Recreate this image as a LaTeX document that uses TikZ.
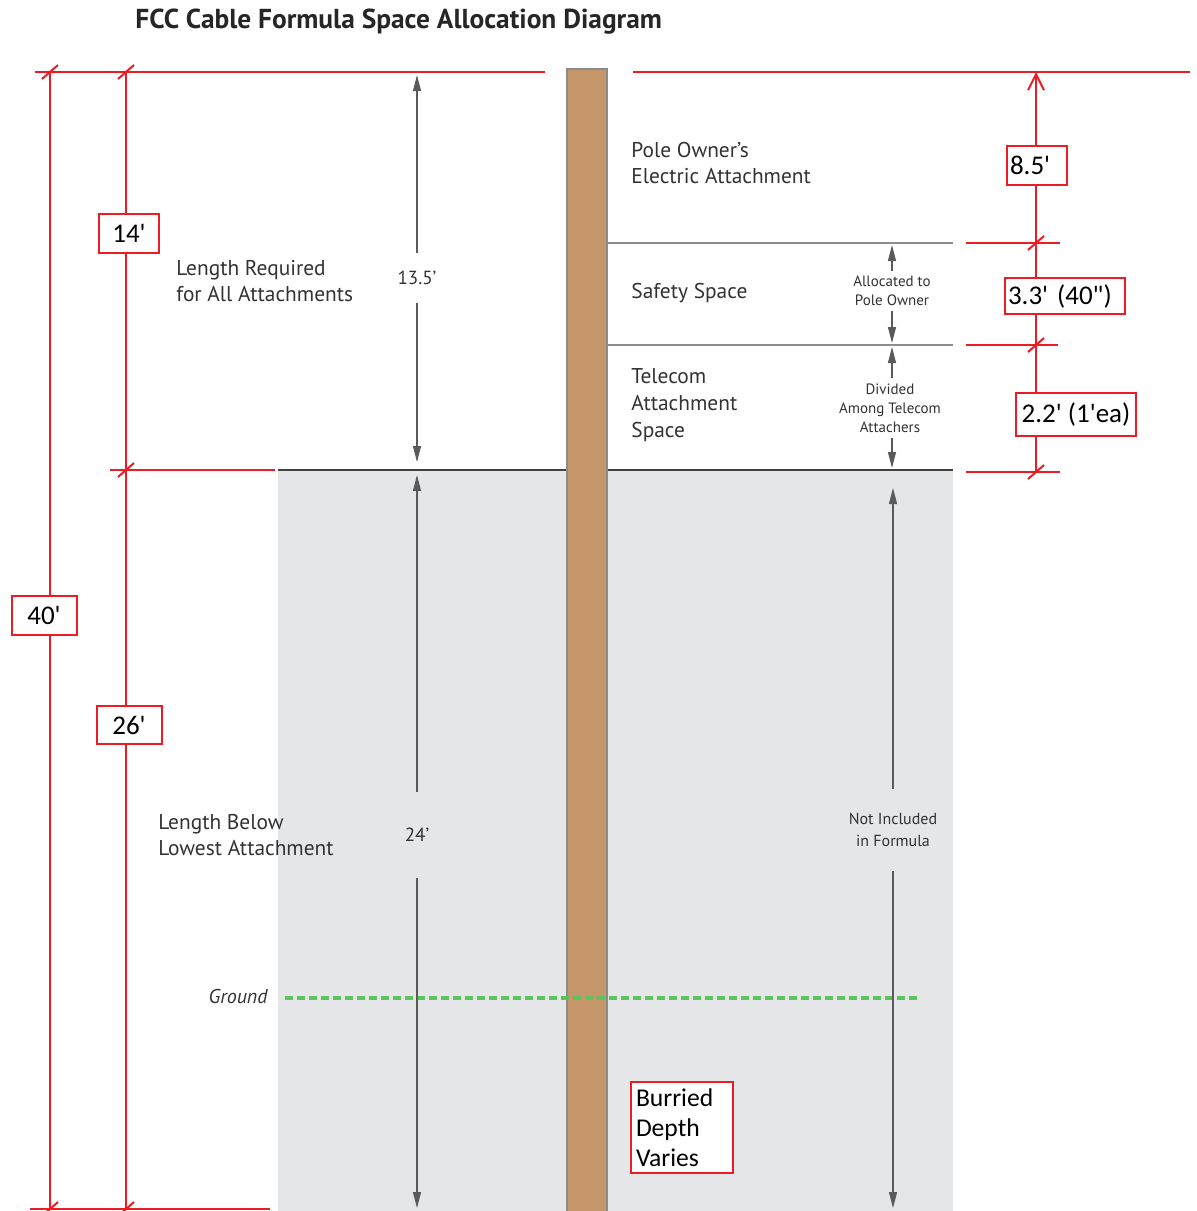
\documentclass[tikz,border=0pt]{standalone}
\usepackage{fontspec}
\setmainfont{PT Sans}
\newfontfamily\boxfont{Carlito}
\usetikzlibrary{calc,arrows.meta}
\definecolor{dimred}{RGB}{237,28,36}
\definecolor{poletan}{RGB}{196,150,106}
\definecolor{belowgray}{RGB}{229,230,232}
\definecolor{groundgreen}{RGB}{92,196,92}
\definecolor{labelgray}{RGB}{50,50,50}
\definecolor{arrowgray}{RGB}{90,90,90}
\def\dimtick(#1){\draw[dimline] ($(#1)+(-8,7)$) -- ($(#1)+(8,-7)$);}

\begin{document}
\begin{tikzpicture}[x=0.5pt, y=-0.5pt,
	dimline/.style={draw=dimred, line width=1pt},
	dimbox/.style={draw=dimred, line width=1pt, fill=white, text=black, font=\boxfont\fontsize{13.5}{15}\selectfont, inner sep=0pt},
	measure/.style={draw=arrowgray, line width=0.6pt, -{Triangle[length=8pt,width=4pt]}},
	partline/.style={draw=black!45, line width=0.7pt},
	sidetext/.style={text=labelgray, font=\fontsize{10.7}{13}\selectfont, align=left, anchor=west, inner sep=0pt},
	numtext/.style={text=labelgray, font=\fontsize{9.5}{11}\selectfont, inner sep=0pt},
	smalltext/.style={text=labelgray, font=\fontsize{7.5}{9.5}\selectfont, align=center, inner sep=2.5pt}]
	%%%%% START %%%%%
	\useasboundingbox (0,0) rectangle (1196,1211);
	
	\node[anchor=west, font=\bfseries\fontsize{13.7}{15}\selectfont, text=black!85, inner sep=0pt] (title) at (135,22) {FCC Cable Formula Space Allocation Diagram};
	
	% space below the lowest attachment
	\fill[belowgray] (278,470) rectangle (953,1211);
	\draw[partline] (607,243) -- (953,243);
	\draw[partline] (607,345) -- (953,345);
	\draw[draw=black!75, line width=0.8pt] (278,470) -- (953,470);
	
	% pole
	\draw[draw=black!45, fill=poletan, line width=0.8pt] (567,1212) -- (567,69) -- (607,69) -- (607,1212);
	
	\draw[dash pattern=on 4pt off 2pt, draw=groundgreen, line width=2pt] (285,998) -- (920,998);
	\node[anchor=east, font=\itshape\fontsize{10}{12}\selectfont, text=labelgray, inner sep=0pt] (ground) at (268,996) {Ground};
	
	% red reference lines
	\draw[dimline] (35,72) -- (545,72);
	\draw[dimline] (633,72) -- (1190,72);
	\draw[dimline] (110,470) -- (275,470);
	\draw[dimline] (30,1209) -- (270,1209);
	\draw[dimline] (966,243) -- (1060,243);
	\draw[dimline] (966,345) -- (1058,345);
	\draw[dimline] (966,472) -- (1060,472);
	
	% left dimensions
	\coordinate (l40top) at (50,72);
	\coordinate (l40bot) at (50,1209);
	\coordinate (l14top) at (126,72);
	\coordinate (l14bot) at (126,470);
	\coordinate (l26bot) at (126,1209);
	\draw[dimline] (l40top) -- (l40bot);
	\draw[dimline] (l14top) -- (l26bot);
	\foreach \p in {l40top,l40bot,l14top,l14bot,l26bot} {\dimtick(\p)}
	\node[dimbox, minimum width=30pt, minimum height=19.5pt] (b14) at (129,233) {14\textquotesingle};
	\node[dimbox, minimum width=32.5pt, minimum height=19.5pt] (b40) at (44,615) {40\textquotesingle};
	\node[dimbox, minimum width=32.5pt, minimum height=19pt] (b26) at (129,725) {26\textquotesingle};
	
	% right dimensions
	\coordinate (r85top) at (1036,72);
	\coordinate (r85bot) at (1036,243);
	\coordinate (r33bot) at (1036,345);
	\coordinate (r22bot) at (1036,472);
	\draw[dimline, {Straight Barb[length=8pt,width=8pt]}-] (r85top) -- (r22bot);
	\foreach \p in {r85bot,r33bot,r22bot} {\dimtick(\p)}
	\node[dimbox, text width=27pt, align=left, inner xsep=1.5pt, minimum height=19.5pt] (b85) at (1037,165) {8.5\textquotesingle};
	\node[dimbox, text width=57pt, align=left, inner xsep=1.5pt, minimum height=18pt] (b33) at (1065,296) {3.3\textquotesingle{} (40\textquotedbl)};
	\node[dimbox, minimum width=60pt, minimum height=21.5pt] (b22) at (1076,414) {2.2\textquotesingle{} (1\textquotesingle ea)};
	
	% measured lengths
	\node[numtext, minimum height=25pt] (m135) at (417,278) {13.5’};
	\coordinate (m135top) at (417,75);
	\coordinate (m135bot) at (417,462);
	\draw[measure] (m135) -- (m135top);
	\draw[measure] (m135) -- (m135bot);
	
	\node[numtext, minimum height=43pt] (m24) at (417,835) {24’};
	\coordinate (m24top) at (417,475);
	\coordinate (m24bot) at (417,1208);
	\draw[measure] (m24) -- (m24top);
	\draw[measure] (m24) -- (m24bot);
	
	\node[smalltext] (alloc) at (892,291) {Allocated to\\Pole Owner};
	\coordinate (alloctop) at (892,245);
	\coordinate (allocbot) at (892,343);
	\draw[measure] (alloc) -- (alloctop);
	\draw[measure] (alloc) -- (allocbot);
	
	\node[smalltext] (divided) at (890,408) {Divided\\Among Telecom\\Attachers};
	\coordinate (dividedtop) at (892,347);
	\coordinate (dividedbot) at (892,468);
	\draw[measure] (divided.north -| dividedtop) -- (dividedtop);
	\draw[measure] (divided.south -| dividedbot) -- (dividedbot);
	
	\node[smalltext, font=\fontsize{8}{11}\selectfont, minimum height=41pt, inner sep=0pt] (notincl) at (893,830) {Not Included\\in Formula};
	\coordinate (notincltop) at (893,488);
	\coordinate (notinclbot) at (893,1208);
	\draw[measure] (notincl) -- (notincltop);
	\draw[measure] (notincl) -- (notinclbot);
	
	% space names
	\node[sidetext] (ownertext) at (631,163) {Pole Owner’s\\Electric Attachment};
	\node[sidetext] (safetytext) at (631,293) {Safety Space};
	\node[sidetext, font=\fontsize{10.7}{13.5}\selectfont] (telecomtext) at (631,405) {Telecom\\Attachment\\Space};
	\node[sidetext] (reqtext) at (176,281) {Length Required\\for All Attachments};
	\node[sidetext] (belowtext) at (158,835) {Length Below\\Lowest Attachment};
	
	\node[dimbox, font=\boxfont\fontsize{12.8}{15}\selectfont, anchor=north west, text width=46pt, align=left, inner xsep=2.5pt, minimum height=45.5pt] (buried) at (630,1081) {Burried\\Depth\\Varies};
	%%%%% END %%%%%
\end{tikzpicture}
\end{document}
